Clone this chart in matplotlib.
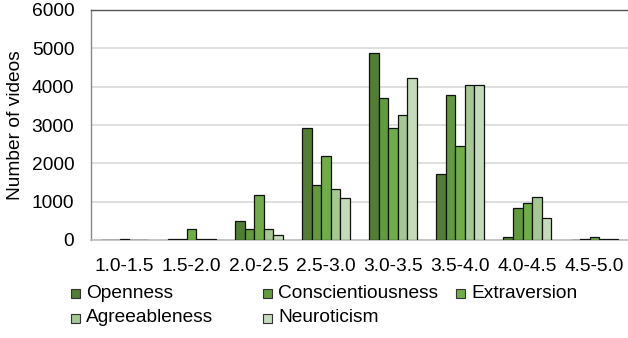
import matplotlib
matplotlib.use("Agg")
import matplotlib.pyplot as plt
import numpy as np
from matplotlib.patches import Rectangle

categories = ["1.0-1.5", "1.5-2.0", "2.0-2.5", "2.5-3.0", "3.0-3.5", "3.5-4.0", "4.0-4.5", "4.5-5.0"]
openness = [0, 15, 500, 2920, 4870, 1720, 70, 0]
conscientiousness = [0, 20, 300, 1430, 3710, 3790, 835, 20]
extraversion = [30, 280, 1180, 2200, 2910, 2440, 975, 70]
agreeableness = [0, 20, 280, 1340, 3260, 4050, 1110, 20]
neuroticism = [0, 20, 130, 1090, 4215, 4050, 575, 20]

series_names = ["Openness", "Conscientiousness", "Extraversion", "Agreeableness", "Neuroticism"]
series_values = [openness, conscientiousness, extraversion, agreeableness, neuroticism]
colors = ["#517E32", "#629A3E", "#70AD47", "#A5C893", "#C4DBBB"]

plt.rcParams['font.family'] = ['Liberation Sans', 'DejaVu Sans']
FS = 13.8

fig = plt.figure(figsize=(6.28, 3.38), dpi=100)
W, H = 628, 338
ax = fig.add_axes([91 / W, (H - 240) / H, (628 - 91) / W, (240 - 10) / H])

x = np.arange(len(categories))
bw = 0.142
for i, (name, vals, c) in enumerate(zip(series_names, series_values, colors)):
    ax.bar(x + (i - 2) * bw, vals, width=bw, color=c, edgecolor="#111111", linewidth=0.9, zorder=3)

ax.set_xlim(-0.5, len(categories) - 0.5)
ax.set_ylim(0, 6000)
ax.set_yticks(range(0, 6001, 1000))
ax.yaxis.grid(True, color="#d9d9d9", linewidth=1.2, zorder=0)
ax.set_axisbelow(True)
ax.set_xticks(x)
ax.set_xticklabels(categories)
ax.tick_params(axis="both", length=0, labelsize=FS, colors="#000000")
ax.tick_params(axis="y", pad=12)
ax.tick_params(axis="x", pad=13)
ax.set_ylabel("Number of videos", fontsize=FS)
ax.yaxis.set_label_coords((24 - 91) / 537, 0.5)

ax.spines["right"].set_visible(False)
ax.spines["top"].set_color("#555555")
ax.spines["top"].set_linewidth(1.0)
ax.spines["left"].set_color("#888888")
ax.spines["left"].set_linewidth(1.0)
ax.spines["bottom"].set_color("#bfbfbf")
ax.spines["bottom"].set_linewidth(1.2)

# Legend drawn manually (Excel-style row-wise layout)
leg_pos = [(71, 293), (263, 293), (456, 293), (71, 318), (263, 318)]
for (px, py), name, c in zip(leg_pos, series_names, colors):
    sz = 9
    fig.patches.append(Rectangle((px / W, (H - py - sz / 2) / H), sz / W, sz / H,
                                 transform=fig.transFigure, facecolor=c,
                                 edgecolor="#333333", linewidth=0.8))
    fig.text((px + sz + 6) / W, (H - py) / H, name, fontsize=FS, va="center", ha="left")

fig.savefig("out.png", dpi=100)
